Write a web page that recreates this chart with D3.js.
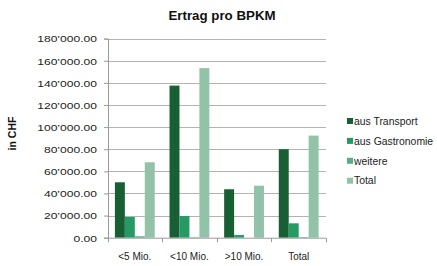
<!DOCTYPE html>
<html><head><meta charset="utf-8">
<script src="https://cdn.jsdelivr.net/npm/d3@7"></script>
<style>body{margin:0;background:#fff;} svg{display:block;font-family:"Liberation Sans",Arial,sans-serif;}</style>
</head><body>
<script>
const categories = ["<5 Mio.", "<10 Mio.", ">10 Mio.", "Total"];
const seriesNames = ["aus Transport", "aus Gastronomie", "weitere", "Total"];
const transport = [50100, 137500, 43800, 80000];
const gastronomie = [18700, 19600, 2400, 13000];
const weitere = [1300, 400, 0, 500];
const total = [68200, 153300, 47000, 92300];
const yTicks = [0, 20000, 40000, 60000, 80000, 100000, 120000, 140000, 160000, 180000];
const colors = ["#195f34", "#259a64", "#55ae85", "#92c3a9"];

const seriesValues = [transport, gastronomie, weitere, total];
const W = 437, H = 266;
const L = 107.5, R = 326, T = 38.6, B = 237.7;

const svg = d3.select("body").append("svg").attr("width", W).attr("height", H);

const y = d3.scaleLinear().domain([0, 180000]).range([B, T]);
const x = d3.scaleBand().domain(categories).range([L, R]).padding(0);
const xs = d3.scaleBand().domain(seriesNames).range([7.4, x.bandwidth() - 7.4]).padding(0);

// gridlines
svg.append("g").selectAll("line").data(yTicks.filter(d => d > 0)).join("line")
  .attr("x1", L).attr("x2", R)
  .attr("y1", d => Math.round(y(d)) + 0.5).attr("y2", d => Math.round(y(d)) + 0.5)
  .attr("stroke", "#b3b3b3").attr("stroke-width", 1);

// bars
const fmt = d3.format(",.2f");
seriesNames.forEach((s, si) => {
  svg.append("g").selectAll("rect").data(categories).join("rect")
    .attr("x", c => x(c) + xs(s))
    .attr("width", xs.bandwidth())
    .attr("y", (c, i) => y(seriesValues[si][i]))
    .attr("height", (c, i) => B - y(seriesValues[si][i]))
    .attr("fill", colors[si]);
});

// y axis
const yAxis = svg.append("g").attr("transform", `translate(${L + 0.5},0)`)
  .call(d3.axisLeft(y).tickValues(yTicks).tickSize(4).tickPadding(11)
    .tickFormat(d => fmt(d).replace(/,/g, "\u2019")));
yAxis.select(".domain").attr("stroke", "#9a9a9a");
yAxis.selectAll(".tick line").attr("stroke", "#9a9a9a");
yAxis.selectAll(".tick text").attr("font-size", "9.6px").attr("fill", "#222")
  .attr("x", 0).attr("dy", "0.35em")
  .attr("transform", "translate(-11,0) scale(1.26,1)")
  .style("font-family", "'Liberation Sans',Arial,sans-serif");

// x axis
const xg = svg.append("g").attr("transform", `translate(0,${B + 0.5})`);
xg.append("line").attr("x1", L).attr("x2", R).attr("stroke", "#9a9a9a");
xg.selectAll("line.t").data(d3.range(categories.length + 1)).join("line").attr("class", "t")
  .attr("x1", i => Math.round(L + i * x.bandwidth()) + 0.5).attr("x2", i => Math.round(L + i * x.bandwidth()) + 0.5)
  .attr("y1", 0).attr("y2", 4).attr("stroke", "#9a9a9a");
xg.selectAll("text").data(categories).join("text")
  .attr("x", c => x(c) + x.bandwidth() / 2).attr("y", 22)
  .attr("text-anchor", "middle").attr("font-size", "10px").attr("fill", "#222")
  .text(c => c);

// title
svg.append("text").attr("x", 222).attr("y", 19.5).attr("text-anchor", "middle")
  .attr("font-size", "13.3px").attr("font-weight", "bold").attr("fill", "#111")
  .text("Ertrag pro BPKM");

// y label
svg.append("text").attr("transform", "translate(16,133.5) rotate(-90)").attr("text-anchor", "middle")
  .attr("font-size", "10.5px").attr("font-weight", "bold").attr("fill", "#111")
  .text("in CHF");

// legend
const lg = svg.append("g");
seriesNames.forEach((s, i) => {
  const yy = 121 + i * 19.9;
  lg.append("rect").attr("x", 347).attr("y", yy - 3).attr("width", 6).attr("height", 6).attr("fill", colors[i]);
  lg.append("text").attr("x", 354).attr("y", yy + 3.7).attr("font-size", "10.4px").attr("fill", "#222").text(s);
});
</script>
</body></html>
